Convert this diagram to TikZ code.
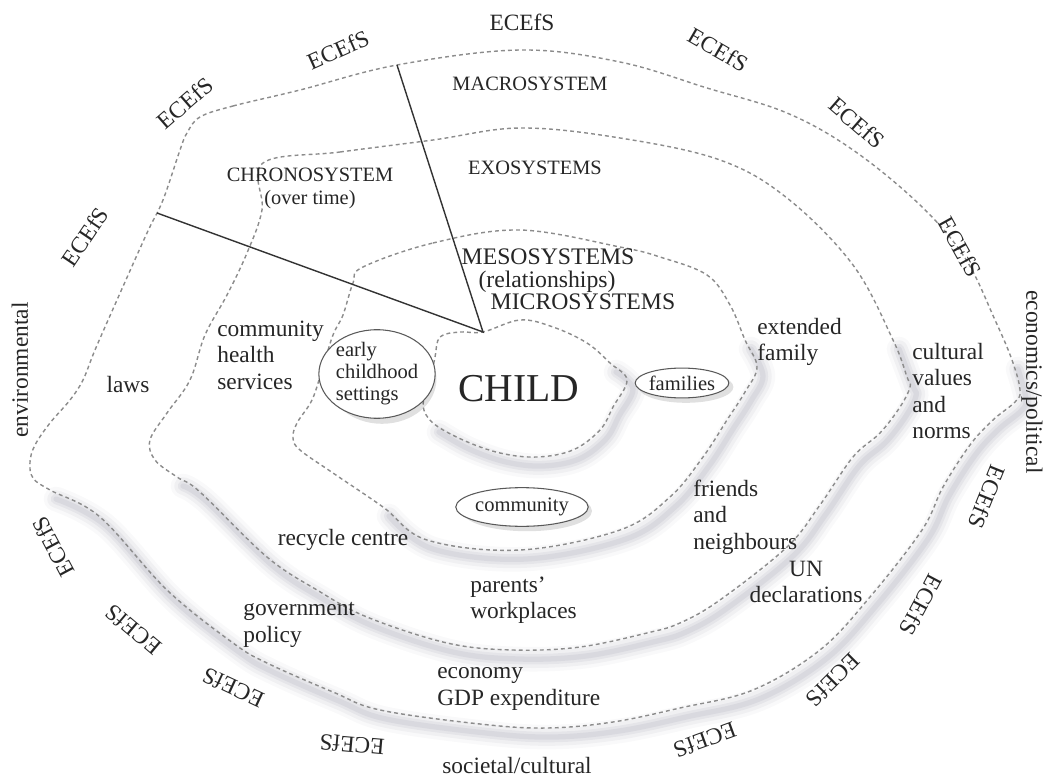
\documentclass[tikz,border=0pt]{standalone}
\usepackage{fontspec}
\setmainfont{Liberation Serif}
\usetikzlibrary{shapes.geometric}
\begin{document}
\begin{tikzpicture}[x=0.02cm,y=-0.02cm,
  ring/.style={draw=black!45, line width=0.8pt, dash pattern=on 2.2pt off 1.8pt, line join=round},
  shA/.style={draw=black!80!blue, line cap=round, line join=round, opacity=0.025, line width=14pt},
  shB/.style={draw=black!80!blue, line cap=round, line join=round, opacity=0.035, line width=10pt},
  shC/.style={draw=black!80!blue, line cap=round, line join=round, opacity=0.045, line width=6pt},
  shD/.style={draw=black!80!blue, line cap=round, line join=round, opacity=0.05, line width=3pt},
  lab/.style={font=\fontsize{13.3}{15.1}\selectfont, text=black!85, inner sep=0pt, align=left},
  syslab/.style={font=\fontsize{11.6}{13}\selectfont, text=black!85, inner sep=0pt, align=center},
  meso/.style={font=\fontsize{13.5}{14.5}\selectfont, text=black!85, inner sep=0pt, align=center},
  ell/.style={ellipse, draw=black!65, line width=0.6pt, fill=white, inner sep=0pt, text=black!85,
     font=\fontsize{11.7}{12.5}\selectfont, align=left},
  ellsh/.style={ellipse, fill=black, opacity=0.12, draw=none, inner sep=0pt},
  solidline/.style={draw=black!80, line width=0.8pt}
]
\useasboundingbox (0,0) rectangle (1047,780);
\fill[white] (0,0) rectangle (1047,780);

% ---------- shadows (lower right parts) ----------
\begin{scope}[shift={(6,9)}]
\foreach \s in {shA,shB,shC,shD}{
\draw[\s] plot[smooth, tension=0.6] coordinates {(1012,360) (1020,390) (1015,402) (993,420) (970,445) (943,487) (922,530) (870,597) (820,650) (753,690) (680,708) (613,722) (547,728) (480,724) (380,710) (333,692) (267,663) (233,643) (167,590) (100,517) (50,490)};
\draw[\s] plot[smooth, tension=0.6] coordinates {(893,340) (907,377) (910,387) (900,407) (880,433) (853,457) (820,505) (787,547) (720,600) (680,623) (647,633) (580,647) (513,650) (447,643) (367,617) (317,590) (267,557) (200,492) (177,477)};
\draw[\s] plot[smooth, tension=0.6] coordinates {(745,340) (757,367) (745,392) (727,420) (703,457) (670,497) (620,530) (520,550) (427,540) (383,507)};
\draw[\s] plot[smooth, tension=0.6] coordinates {(610,363) (627,380) (613,407) (600,430) (573,450) (537,457) (500,453) (463,440) (433,423)};
}
\end{scope}

% ---------- dashed rings ----------
\draw[ring] plot[smooth cycle, tension=0.6] coordinates {(200,117) (233,106) (300,90) (397,65) (520,50) (620,62) (707,88) (787,113) (853,150) (920,205) (965,258) (995,320) (1012,360) (1020,390) (1015,402) (993,420) (970,445) (943,487) (922,530) (870,597) (820,650) (753,690) (680,708) (613,722) (547,728) (480,724) (380,710) (333,692) (267,663) (233,643) (167,590) (100,517) (50,490) (33,478) (30,462) (35,445) (50,423) (70,400) (83,380) (95,350) (117,300) (147,233) (163,200) (180,150) (187,133)};
\draw[ring] plot[smooth cycle, tension=0.6] coordinates {(263,163) (340,152) (433,140) (520,128) (620,138) (720,160) (787,198) (853,265) (893,340) (907,377) (910,387) (900,407) (880,433) (853,457) (820,505) (787,547) (720,600) (680,623) (647,633) (580,647) (513,650) (447,643) (367,617) (317,590) (267,557) (200,492) (177,477) (155,460) (150,440) (167,413) (190,380) (205,335) (227,295) (247,253) (262,210)};
\draw[ring] plot[smooth cycle, tension=0.6] coordinates {(363,267) (433,243) (520,230) (620,247) (660,257) (707,275) (730,305) (745,340) (757,367) (745,392) (727,420) (703,457) (670,497) (620,530) (520,550) (427,540) (383,507) (333,473) (300,450) (293,438) (297,423) (312,400) (322,370) (333,335) (343,315) (353,283)};
\draw[ring] plot[smooth cycle, tension=0.6] coordinates {(440,337) (460,332) (483,332) (520,320) (553,327) (587,343) (610,363) (627,380) (613,407) (600,430) (573,450) (537,457) (500,453) (463,440) (433,423) (423,405) (430,383) (435,357)};

% ---------- ellipses ----------
\node[ellsh, minimum width=62pt, minimum height=51pt] (ecsS) at (382,379) {};
\node[ellsh, minimum width=54pt, minimum height=18pt] (famS) at (686,387) {};
\node[ellsh, minimum width=74pt, minimum height=23pt] (comS) at (527,511) {};
\node[ell, minimum width=60.5pt, minimum height=50pt] (ecs) at (377,374) {early\\childhood\\settings};
\node[ell, minimum width=52.7pt, minimum height=17pt] (fam) at (682,383) {families};
\node[ell, minimum width=73pt, minimum height=22pt] (com) at (522,507) {community};

% ---------- straight lines ----------
\coordinate (apex) at (483,332);
\coordinate (topend) at (397,65);
\coordinate (leftend) at (157,213);
\draw[solidline] (topend) -- (apex) -- (leftend);

% ---------- ring labels ----------
\node[lab] (e1) at (522,22) {ECEfS};
\node[lab, rotate=24] (e2) at (338,50) {ECEfS};
\node[lab, rotate=41] (e3) at (185,103) {ECEfS};
\node[lab, rotate=56] (e4) at (85,237) {ECEfS};
\node[lab, rotate=90] (env) at (20,370) {environmental};
\node[lab, rotate=-30] (e5) at (718,50) {ECEfS};
\node[lab, rotate=-41] (e6) at (857,123) {ECEfS};
\node[lab, rotate=-61] (e7) at (960,247) {ECEfS};
\node[lab, rotate=-90] (eco) at (1032,382) {economics/political};
\node[lab, rotate=-112] (e8) at (987,497) {ECEfS};
\node[lab, rotate=-118] (e9) at (921,605) {ECEfS};
\node[lab, rotate=-135] (e10) at (833,680) {ECEfS};
\node[lab, rotate=-160] (e11) at (705,740) {ECEfS};
\node[lab, rotate=175] (e12) at (352,745) {ECEfS};
\node[lab, rotate=155] (e13) at (233,688) {ECEfS};
\node[lab, rotate=140] (e14) at (133,630) {ECEfS};
\node[lab, rotate=118] (e15) at (53,547) {ECEfS};

% ---------- system labels ----------
\node[syslab] (macro) at (530,84) {MACROSYSTEM};
\node[syslab] (exo) at (535,168) {EXOSYSTEMS};
\node[syslab] (chrono) at (310,175) {CHRONOSYSTEM};
\node[syslab] (overtime) at (310,200) {(over time)};
\node[meso] (mesolab) at (548,257) {MESOSYSTEMS};
\node[meso] (rel) at (547,282) {(relationships)};
\node[meso] (micro) at (583,302) {MICROSYSTEMS};
\node[font=\fontsize{22.5}{24}\selectfont, text=black!85, inner sep=0pt] (child) at (519,389) {CHILD};

% ---------- content labels ----------
\node[lab, anchor=west] (chs) at (217,355) {community\\health\\services};
\node[lab] (laws) at (128,385) {laws};
\node[lab, anchor=west] (ext) at (757,342) {extended\\family};
\node[lab, anchor=west] (cult) at (912,391) {cultural\\values\\and\\norms};
\node[lab, anchor=west] (friends) at (693,517) {friends\\and\\neighbours};
\node[lab] (recycle) at (343,540) {recycle centre};
\node[lab, anchor=west] (parents) at (470,600) {parents'\\workplaces};
\node[lab, align=center] (un) at (806,582) {UN\\declarations};
\node[lab, anchor=west] (gov) at (243,625) {government\\policy};
\node[lab, anchor=west] (econ) at (437,689) {economy\\GDP expenditure};
\node[lab] (soc) at (517,765) {societal/cultural};
\end{tikzpicture}
\end{document}
